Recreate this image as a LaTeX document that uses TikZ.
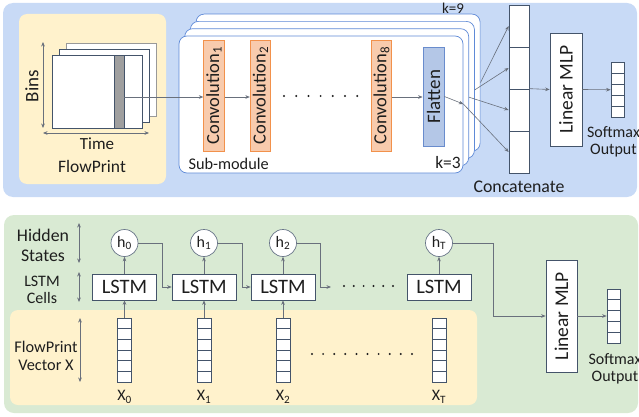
\documentclass[tikz,border=0pt]{standalone}
\usepackage{fontspec}
\setmainfont{Carlito}
\usetikzlibrary{arrows.meta}
\definecolor{bluebg}{RGB}{200,218,246}
\definecolor{yellowbg}{RGB}{255,242,204}
\definecolor{greenbg}{RGB}{217,234,211}
\definecolor{convfill}{RGB}{248,203,173}
\definecolor{convdraw}{RGB}{242,145,75}
\definecolor{flatfill}{RGB}{180,199,231}
\definecolor{flatdraw}{RGB}{105,140,205}
\definecolor{subdraw}{RGB}{95,138,215}
\definecolor{slate}{RGB}{68,84,106}
\definecolor{arrowgray}{RGB}{105,112,124}
\definecolor{txt}{RGB}{30,30,30}
\newcommand{\fs}[1]{\fontsize{#1}{#1}\selectfont}
\begin{document}
\begin{tikzpicture}[x=1pt,y=-1pt,
  every node/.style={text=txt},
  arr/.style={draw=arrowgray, line width=0.6pt, -{Stealth[length=4.5pt,width=3.6pt]}},
  darr/.style={draw=arrowgray, line width=0.6pt, {Stealth[length=4.5pt,width=3.6pt]}-{Stealth[length=4.5pt,width=3.6pt]}},
  panel/.style={rounded corners=10pt, draw=none},
  subbox/.style={draw=subdraw, fill=white, line width=0.7pt, rounded corners=8pt, minimum width=284pt, minimum height=137pt, inner sep=0pt},
  convbox/.style={draw=convdraw, fill=convfill, line width=0.8pt, rotate=90, minimum width=111pt, minimum height=20.5pt, inner sep=0pt, font=\fs{18.5}},
  flatbox/.style={draw=flatdraw, fill=flatfill, line width=0.8pt, rotate=90, minimum width=99pt, minimum height=21pt, inner sep=0pt, font=\fs{19}},
  mlpbox/.style={draw=slate, fill=white, line width=0.7pt, rotate=90, inner sep=0pt, font=\fs{19.5}},
  cell/.style={draw=slate, fill=white, line width=0.7pt, inner sep=0pt},
  sheet/.style={draw=slate, fill=white, line width=0.8pt, minimum width=90pt, minimum height=73pt, inner sep=0pt},
  lstmbox/.style={draw=slate, fill=white, line width=0.7pt, minimum width=64pt, minimum height=26pt, inner sep=0pt, font=\fs{20.5}},
  hstate/.style={circle, draw=slate!80, fill=white, line width=0.7pt, minimum size=27pt, inner sep=0pt, font=\fs{16}},
  lbl/.style={align=center, inner sep=0pt}
]
\useasboundingbox (0,0) rectangle (639,417);

% ---------- CNN panel ----------
\fill[bluebg, panel] (3,3) rectangle (637,197);
\fill[yellowbg, rounded corners=8pt] (19,14) rectangle (166,184);

% FlowPrint sheets
\node[sheet, draw=gray!80] (sheetC) at (111.5,80) {};
\node[sheet] (sheetB) at (104,86) {};
\node[sheet] (sheetA) at (97,91.5) {};
\node[draw=slate, fill=gray!75, line width=0.8pt, minimum width=10pt, minimum height=73pt, inner sep=0pt] (bar) at (119,91.5) {};
\draw[darr] (43,42) -- (43,128);
\node[rotate=90, font=\fs{19}] (bins) at (32,86) {Bins};
\draw[darr] (43,133) -- (149,133);
\node[font=\fs{17}] (time) at (97,144) {Time};
\node[font=\fs{17.5}] (fp) at (92,166) {FlowPrint};

% stacked sub-modules
\node[subbox] (sub3) at (338.1,82.6) {};
\node[subbox] (sub2) at (332.4,89.9) {};
\node[subbox] (sub1) at (326.7,97.2) {};
\node[subbox] (sub0) at (321,104.5) {};
\node[font=\fs{15}] (k9) at (453,8) {k=9};
\node[anchor=west, font=\fs{16.3}] (subname) at (185,164) {Sub-module};
\node[font=\fs{17.4}] (k3) at (448,163) {k=3};

% convolution chain
\node[convbox] (conv1) at (214,95.5) {Convolution\textsubscript{1}};
\node[convbox] (conv2) at (260.5,95.5) {Convolution\textsubscript{2}};
\node[convbox] (conv8) at (381.5,95.5) {Convolution\textsubscript{8}};
\node[flatbox] (flat) at (433.5,96.5) {Flatten};
\draw[arr] (bar.east |- 0,97) -- (conv1.north |- 0,97);
\draw[arr] (conv1.south |- 0,97) -- (conv2.north |- 0,97);
\draw[arr] (conv8.south |- 0,97) -- (flat.north |- 0,97);
\foreach \x in {0,...,6} \fill[txt] (284+12.2*\x,96) circle (1.1pt);

% concatenation column
\foreach \i in {1,...,4}
  \node[cell, minimum width=20pt, minimum height=42pt] (cat\i) at (519,{5+42*(\i-1)+21}) {};
\node[font=\fs{17.8}] (catname) at (519,187) {Concatenate};
\draw[arr] (flat.south) -- (sub0.east |- 0,104);
\draw[arr] (sub0.east |- 0,104) -- (cat4.west);
\draw[arr] (sub1.east) -- (cat3.west);
\draw[arr] (sub2.east) -- (cat2.west);
\draw[arr] (sub3.east) -- (cat1.west);

% classifier
\node[mlpbox, minimum width=113pt, minimum height=32pt] (mlp1) at (566,89.5) {Linear MLP};
\draw[arr] (cat3.north east) -- (mlp1.north);
\foreach \i in {1,...,5}
  \node[cell, minimum width=13pt, minimum height=10.9pt] (smA\i) at (617.5,{62.5+10.9*(\i-1)+5.45}) {};
\draw[arr] (mlp1.south) -- (smA3.west);
\node[lbl, font=\fs{16}] (smAlbl) at (613.5,142) {Softmax\\[1pt]Output};

% ---------- LSTM panel ----------
\fill[greenbg, panel] (4,215) rectangle (638,413);
\fill[yellowbg, rounded corners=8pt] (10,310) rectangle (477,405);

\node[lbl, font=\fs{17.8}] (hidlbl) at (43,245) {Hidden\\[2pt]States};
\draw[darr] (79,223) -- (79,263);
\node[lbl, font=\fs{16}] (celllbl) at (42,290) {LSTM\\[1pt]Cells};
\draw[darr] (79,272) -- (79,302);
\node[lbl, font=\fs{16.3}] (veclbl) at (46,356) {FlowPrint\\[2pt]Vector X};
\draw[darr] (80,318) -- (80,382);

\foreach \n/\cx in {0/124.5,1/204,2/283,T/439}{
  \node[lstmbox] (lstm\n) at (\cx,287) {LSTM};
  \node[hstate] (h\n) at (\cx,243) {h\textsubscript{\n}};
  \draw[arr] (lstm\n.north) -- (h\n.south);
  \foreach \j in {0,...,5}
    \node[cell, minimum width=14pt, minimum height=10.7pt] (x\n-\j) at (\cx,{318+10.7*\j+5.35}) {};
  \node[font=\fs{16}] (xl\n) at (\cx,397) {X\textsubscript{\n}};
}
\foreach \n in {0,1,2} \draw[arr] (x\n-0.north) -- (lstm\n.south);

\draw[arr] (h0.east) -- ++(24,0) |- (lstm1.west);
\draw[arr] (h1.east) -- ++(24,0) |- (lstm2.west);
\coordinate (gap) at (331,287);
\draw[arr] (h2.east) -- ++(23,0) |- (gap);
\foreach \x in {0,...,5} \fill[txt] (344+9.8*\x,286) circle (1.1pt);
\foreach \x in {0,...,9} \fill[txt] (312+11.1*\x,354) circle (1.1pt);

\node[mlpbox, minimum width=112pt, minimum height=31pt] (mlp2) at (561.5,316) {Linear MLP};
\draw[arr] (hT.east) -- ++(40,0) |- (mlp2.north);
\foreach \i in {1,...,5}
  \node[cell, minimum width=13pt, minimum height=10.8pt] (smB\i) at (613.5,{289+10.8*(\i-1)+5.4}) {};
\draw[arr] (mlp2.south) -- (smB3.west);
\node[lbl, font=\fs{16}] (smBlbl) at (615,369) {Softmax\\[1pt]Output};
\end{tikzpicture}
\end{document}
